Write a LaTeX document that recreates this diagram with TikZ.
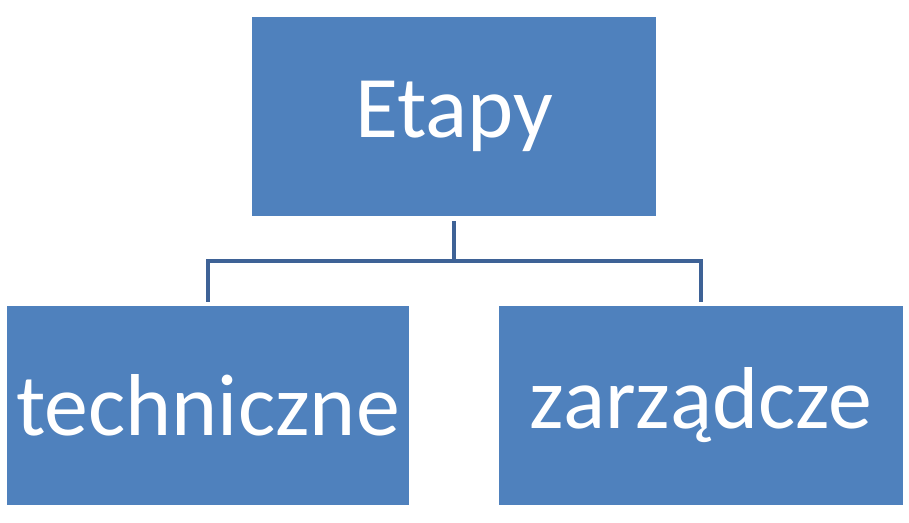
\documentclass[tikz,border=0pt]{standalone}
\usepackage{fontspec}
\setmainfont{Carlito}
\usetikzlibrary{positioning}
\definecolor{boxblue}{RGB}{79,129,189}
\definecolor{lineblue}{RGB}{62,98,150}

\begin{document}
\begin{tikzpicture}[
  box/.style={fill=boxblue,text=white,minimum width=8.08cm,
              minimum height=3.98cm,inner sep=0pt,font=\fontsize{50}{60}\selectfont},
  conn/.style={lineblue,line width=2.3pt,shorten <=0.1cm,shorten >=0.08cm}]
  \useasboundingbox (0,0) rectangle (18.18,-10.46);
  \node[box] (etapy) at (9.08,-2.33) {Etapy};
  \node[box,minimum width=8.04cm] (tech) at (4.16,-8.11) {techniczne};
  \node[box] (zarz) at (14.02,-8.11) {zarządcze};
  \coordinate (mid) at (9.08,-5.22);
  \draw[conn] (etapy.south) -- (mid) -| (tech.north);
  \draw[conn] (etapy.south) -- (mid) -| (zarz.north);
\end{tikzpicture}
\end{document}
